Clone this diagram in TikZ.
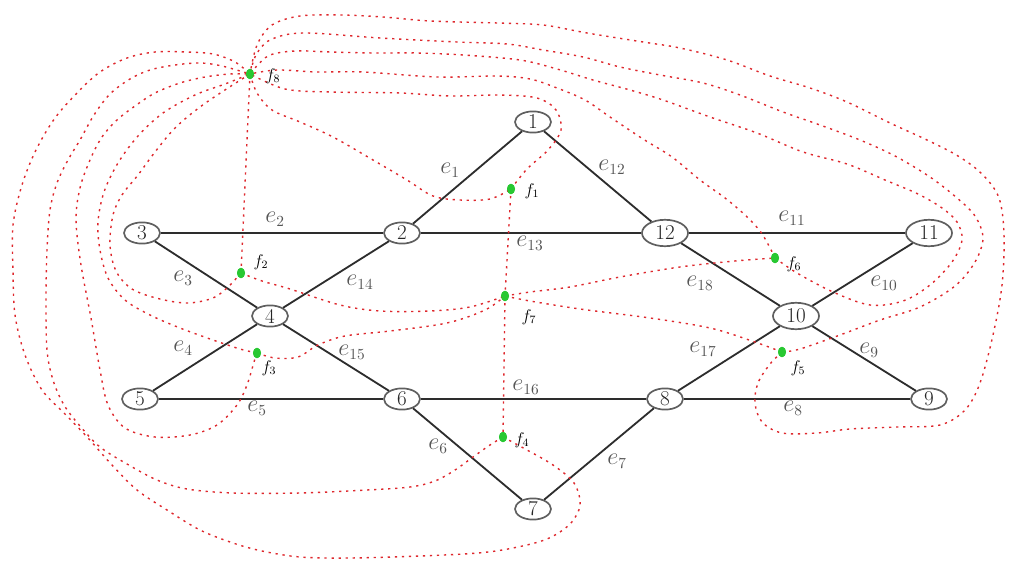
\documentclass[tikz,border=0pt]{standalone}
\usetikzlibrary{shapes.geometric}
\definecolor{dualred}{RGB}{222,40,45}
\definecolor{facegreen}{RGB}{40,200,50}
\definecolor{edgegray}{RGB}{45,45,45}
\definecolor{nodegray}{RGB}{95,95,95}
\definecolor{labgray}{RGB}{85,85,85}
\begin{document}
\begin{tikzpicture}[x=0.025cm,y=-0.025cm,
 vtx/.style={ellipse,draw=nodegray,line width=1.2pt,fill=white,inner sep=0pt,minimum width=0.9cm,minimum height=0.53cm,font=\fontsize{15}{17}\selectfont,text=black!85},
 bigvtx/.style={vtx,minimum width=1.15cm,minimum height=0.66cm},
 gedge/.style={draw=edgegray,line width=1.3pt},
 elab/.style={text=labgray,font=\fontsize{16}{18}\selectfont,inner sep=0pt},
 face/.style={ellipse,fill=facegreen,inner sep=0pt,minimum width=0.2cm,minimum height=0.26cm},
 flab/.style={font=\fontsize{12}{14}\selectfont,inner sep=0pt},
 dual/.style={draw=dualred,line width=1pt,dash pattern=on 1.6pt off 3.4pt},
 sm/.style={smooth,tension=0.55}
]
\useasboundingbox (0,0) rectangle (1010,563);
% vertices
\node[vtx] (n1) at (533,122) {1};
\node[vtx] (n2) at (402,233) {2};
\node[vtx] (n3) at (142,233) {3};
\node[vtx] (n4) at (270,316) {4};
\node[vtx] (n5) at (140,399) {5};
\node[vtx] (n6) at (402,399) {6};
\node[vtx] (n7) at (533,509) {7};
\node[vtx] (n8) at (665,399) {8};
\node[vtx] (n9) at (929,399) {9};
\node[bigvtx] (n10) at (796,316) {10};
\node[bigvtx] (n11) at (929,233) {11};
\node[bigvtx] (n12) at (665,233) {12};
% graph edges
\draw[gedge] (n1) -- (n2);
\draw[gedge] (n3) -- (n2);
\draw[gedge] (n3) -- (n4);
\draw[gedge] (n4) -- (n5);
\draw[gedge] (n5) -- (n6);
\draw[gedge] (n6) -- (n7);
\draw[gedge] (n7) -- (n8);
\draw[gedge] (n8) -- (n9);
\draw[gedge] (n10) -- (n9);
\draw[gedge] (n10) -- (n11);
\draw[gedge] (n12) -- (n11);
\draw[gedge] (n1) -- (n12);
\draw[gedge] (n2) -- (n12);
\draw[gedge] (n4) -- (n2);
\draw[gedge] (n4) -- (n6);
\draw[gedge] (n6) -- (n8);
\draw[gedge] (n10) -- (n8);
\draw[gedge] (n12) -- (n10);
% edge labels
\node[elab] (l1) at (450,170) {$e_1$};
\node[elab] (l2) at (275,219) {$e_2$};
\node[elab] (l3) at (183,278) {$e_3$};
\node[elab] (l4) at (183,348) {$e_4$};
\node[elab] (l5) at (257,408) {$e_5$};
\node[elab] (l6) at (438,446) {$e_6$};
\node[elab] (l7) at (617,461) {$e_7$};
\node[elab] (l8) at (793,408) {$e_8$};
\node[elab] (l9) at (869,350) {$e_9$};
\node[elab] (l10) at (884,283) {$e_{10}$};
\node[elab] (l11) at (792,218) {$e_{11}$};
\node[elab] (l12) at (612,167) {$e_{12}$};
\node[elab] (l13) at (530,243) {$e_{13}$};
\node[elab] (l14) at (360,282) {$e_{14}$};
\node[elab] (l15) at (352,352) {$e_{15}$};
\node[elab] (l16) at (526,387) {$e_{16}$};
\node[elab] (l17) at (703,349) {$e_{17}$};
\node[elab] (l18) at (700,283) {$e_{18}$};
% face points
\node[face] (f1) at (511,189) {};
\node[face] (f2) at (241,273) {};
\node[face] (f3) at (257,353) {};
\node[face] (f4) at (503,437) {};
\node[face] (f5) at (782,352) {};
\node[face] (f6) at (775,258) {};
\node[face] (f7) at (505,296) {};
\node[face] (f8) at (250,74) {};
% dual edges
\draw[dual] (f1.center) -- (f7.center);
\draw[dual] (f7.center) -- (f4.center);
\draw[dual] (f8.center) -- (f2.center);
\draw[dual] plot[sm] coordinates {(f2.center) (262,281) (290,289) (340,305) (380,311) (430,311) (470,307) (f7.center)};
\draw[dual] plot[sm] coordinates {(f3.center) (275,358) (298,357) (318,345) (345,336) (390,331) (447,323) (485,310) (f7.center)};
\draw[dual] plot[sm] coordinates {(f7.center) (530,292) (570,287) (620,277) (680,267) (735,261) (f6.center)};
\draw[dual] plot[sm] coordinates {(f7.center) (530,301) (580,309) (650,318) (710,328) (752,341) (f5.center)};
\draw[dual] plot[sm] coordinates {(f8.center) (257,93) (272,110) (300,122) (333,137) (373,160) (407,180) (433,196) (460,200) (490,199) (f1.center)};
\draw[dual] plot[sm] coordinates {(f1.center) (527,169) (548,150) (561,130) (556,110) (537,98) (500,95) (450,96) (400,93) (330,92) (285,89) (f8.center)};
\draw[dual] plot[sm] coordinates {(f6.center) (769,246) (760,231) (745,215) (725,198) (700,180) (672,157) (643,139) (610,117) (585,100) (557,88) (530,79) (497,76) (437,77) (363,72) (317,72) (277,70) (f8.center)};
\draw[dual] plot[sm] coordinates {(f6.center) (797,273) (833,292) (870,305) (903,301) (930,285) (952,262) (962,240) (957,222) (942,208) (918,194) (885,180) (847,164) (803,152) (757,133) (710,117) (663,100) (630,90) (593,80) (557,69) (520,60) (463,55) (417,53) (373,53) (330,52) (295,51) (268,56) (f8.center)};
\draw[dual] plot[sm] coordinates {(f5.center) (800,349) (840,335) (880,320) (920,307) (955,286) (975,262) (983,238) (975,216) (957,198) (930,177) (895,156) (860,140) (820,125) (783,112) (740,95) (703,83) (660,75) (620,67) (583,57) (543,50) (507,44) (457,42) (380,38) (303,33) (270,40) (256,55) (f8.center)};
\draw[dual] plot[sm] coordinates {(f5.center) (770,364) (758,383) (755,403) (762,422) (782,433) (817,433) (850,429) (897,427) (940,425) (965,410) (980,383) (993,335) (1002,285) (1004,235) (999,198) (982,174) (958,156) (927,140) (890,123) (847,102) (810,88) (770,76) (727,60) (680,48) (643,42) (587,33) (543,25) (497,23) (430,21) (383,17) (340,15) (300,16) (272,25) (257,45) (f8.center)};
\draw[dual] plot[sm] coordinates {(f2.center) (228,287) (213,298) (188,303) (160,299) (132,289) (116,271) (110,245) (113,215) (122,195) (138,175) (155,152) (175,128) (200,107) (228,88) (f8.center)};
\draw[dual] plot[sm] coordinates {(f3.center) (240,349) (213,340) (180,328) (150,315) (125,300) (108,278) (100,250) (98,222) (104,192) (118,163) (138,136) (163,113) (195,95) (225,84) (f8.center)};
\draw[dual] plot[sm] coordinates {(f3.center) (254,362) (247,385) (237,405) (217,425) (190,435) (155,437) (125,428) (108,405) (100,370) (91,318) (81,265) (76,220) (80,188) (90,160) (102,137) (117,120) (135,106) (155,93) (180,83) (205,77) (230,74) (f8.center)};
\draw[dual] plot[sm] coordinates {(f4.center) (490,445) (473,457) (455,470) (435,481) (410,487) (367,490) (300,493) (233,493) (187,489) (157,480) (127,464) (100,447) (80,426) (64,405) (53,380) (47,350) (46,300) (47,250) (50,210) (57,183) (68,160) (80,140) (94,115) (110,94) (130,79) (150,70) (175,65) (200,63) (222,66) (f8.center)};
\draw[dual] plot[sm] coordinates {(f4.center) (527,450) (553,465) (574,483) (580,505) (570,524) (547,539) (513,548) (478,553) (420,556) (350,558) (300,557) (262,551) (233,543) (200,530) (167,510) (137,490) (112,465) (88,438) (65,414) (42,390) (25,355) (15,315) (13,270) (13,225) (22,185) (36,150) (55,118) (78,92) (100,72) (127,58) (155,52) (185,52) (213,54) (235,62) (f8.center)};
% face dots on top
\fill[facegreen] (f1) ellipse (0.1cm and 0.13cm);
\fill[facegreen] (f2) ellipse (0.1cm and 0.13cm);
\fill[facegreen] (f3) ellipse (0.1cm and 0.13cm);
\fill[facegreen] (f4) ellipse (0.1cm and 0.13cm);
\fill[facegreen] (f5) ellipse (0.1cm and 0.13cm);
\fill[facegreen] (f6) ellipse (0.1cm and 0.13cm);
\fill[facegreen] (f7) ellipse (0.1cm and 0.13cm);
\fill[facegreen] (f8) ellipse (0.1cm and 0.13cm);
% face labels
\node[flab] (lf1) at (532,191) {$f_1$};
\node[flab] (lf2) at (261,262) {$f_2$};
\node[flab] (lf3) at (269,368) {$f_3$};
\node[flab] (lf4) at (522,440) {$f_4$};
\node[flab] (lf5) at (798,368) {$f_5$};
\node[flab] (lf6) at (794,264) {$f_6$};
\node[flab] (lf7) at (529,317) {$f_7$};
\node[flab] (lf8) at (273,76) {$f_8$};
\end{tikzpicture}
\end{document}
